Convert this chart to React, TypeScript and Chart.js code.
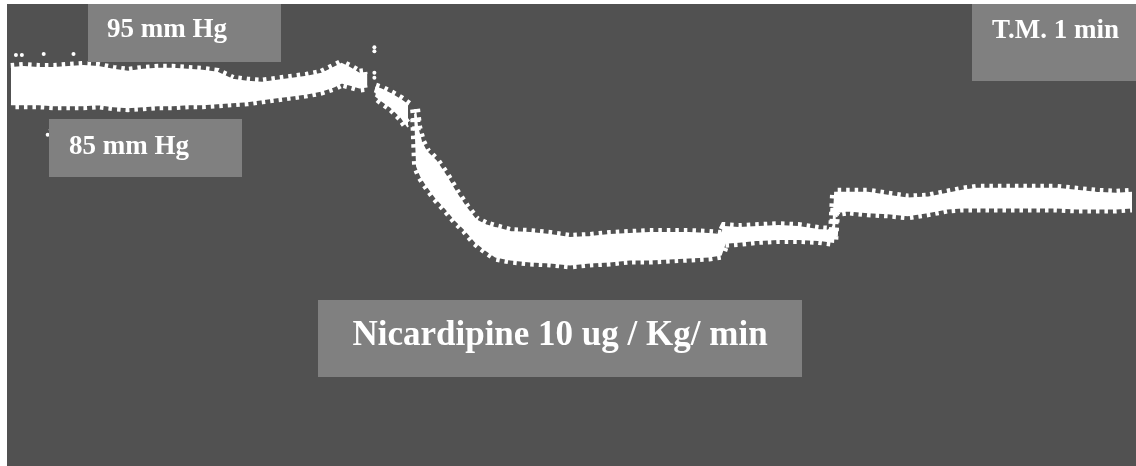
import React, { useEffect, useRef } from "react";
import { Chart, registerables } from "chart.js";

Chart.register(...registerables);

// Time (s) of each sample along the recording
const timeSec: number[] = [
  3.5, 10, 17.5, 25, 32.5, 40, 47.5, 55, 62.5, 70, 77.5, 85, 92.5, 100, 107.5,
  115, 122.5, 130, 137.5, 145, 152.5, 160, 166, 170, 174, 179, 183,
  185,
  187, 190, 195, 200, 203.5,
  205,
  207, 208, 210, 212.5, 217.5, 222.5, 227.5, 232.5, 237.5, 242.5, 247.5, 255,
  265, 275, 285, 295, 305, 315, 325, 335, 345, 355, 361,
  363, 370, 380, 390, 400, 410, 417.5,
  418.5, 425, 435, 445, 455, 465, 475, 482.5, 490, 500, 510, 520, 530, 540,
  550, 560, 568,
];

// Systolic envelope (mm Hg)
const systolic: (number | null)[] = [
  92.5, 92.6, 92.5, 92.5, 92.6, 92.7, 92.6, 92.3, 92.1, 92.3, 92.4, 92.4, 92.3,
  92.2, 92.0, 91.3, 91.1, 91.0, 91.2, 91.4, 91.6, 91.9, 92.5, 92.9, 92.5, 91.9,
  92.0,
  null,
  90.5, 90.3, 89.8, 89.2, 88.7,
  null,
  88.3, 86.5, 85.0, 84.0, 83.0, 81.5, 79.8, 78.3, 77.0, 76.5, 76.2, 75.8,
  75.7, 75.5, 75.2, 75.3, 75.5, 75.6, 75.7, 75.7, 75.7, 75.6, 75.5,
  76.3, 76.2, 76.3, 76.4, 76.3, 76.0, 75.9,
  79.8, 79.8, 79.8, 79.5, 79.2, 79.3, 79.7, 80.0, 80.2, 80.2, 80.2, 80.2,
  80.2, 80.0, 79.8, 79.7, 79.8,
];

// Diastolic envelope (mm Hg)
const diastolic: (number | null)[] = [
  88.8, 88.8, 88.8, 88.7, 88.7, 88.7, 88.8, 88.6, 88.5, 88.6, 88.7, 88.7, 88.8,
  88.8, 88.9, 89.0, 89.1, 89.3, 89.5, 89.7, 89.9, 90.2, 90.6, 91.0, 90.8, 90.5,
  90.6,
  null,
  89.7, 89.2, 88.5, 87.5, 86.5,
  null,
  87.8, 82.5, 81.5, 80.7, 79.3, 78.2, 77.0, 76.0, 74.8, 74.0, 73.3, 73.0,
  72.8, 72.7, 72.5, 72.7, 72.8, 73.0, 73.0, 73.1, 73.2, 73.3, 73.5,
  74.7, 74.8, 75.0, 75.1, 75.1, 75.0, 74.8,
  77.8, 78.0, 77.8, 77.7, 77.5, 77.8, 78.2, 78.3, 78.3, 78.3, 78.3, 78.3,
  78.3, 78.2, 78.2, 78.2, 78.3,
];

// Stray pen marks on the tracing
const artifactTime: number[] = [6, 9, 20, 35, 186.5, 186.5, 186.5, 186.5, 23.5, 22];
const artifactValue: number[] = [93.8, 93.8, 93.9, 93.9, 94.6, 94.2, 92.0, 91.5, 86.2, 85.7];

const labelHigh = "95 mm Hg";
const labelLow = "85 mm Hg";
const labelTime = "T.M. 1 min";
const labelDrug = "Nicardipine 10 ug / Kg/ min";

const BG = "#515151";
const BOX = "#808080";
const FONT = "'Liberation Serif', 'Times New Roman', serif";

const annotationsPlugin = {
  id: "recordingDecor",
  beforeDraw(chart: any) {
    const { ctx, width, height } = chart;
    ctx.save();
    ctx.fillStyle = "#ffffff";
    ctx.fillRect(0, 0, width, height);
    ctx.fillStyle = BG;
    ctx.fillRect(7, 4, width - 7, height - 4);
    ctx.restore();
  },
  afterDraw(chart: any) {
    const { ctx } = chart;
    ctx.save();
    const box = (x: number, y: number, w: number, h: number) => {
      ctx.fillStyle = BOX;
      ctx.fillRect(x, y, w, h);
    };
    box(88, 4, 193, 58);
    box(49, 119, 193, 58);
    box(972, 4, 164, 77);
    box(318, 300, 484, 77);
    ctx.fillStyle = "#ffffff";
    ctx.textBaseline = "alphabetic";
    ctx.font = `bold 27px ${FONT}`;
    ctx.textAlign = "left";
    ctx.fillText(labelHigh, 107, 37);
    ctx.fillText(labelLow, 69, 154);
    ctx.fillText(labelTime, 992, 38);
    ctx.font = `bold 35px ${FONT}`;
    ctx.textAlign = "center";
    ctx.fillText(labelDrug, 560, 345);
    ctx.restore();
  },
};

export default function App() {
  const ref = useRef<HTMLCanvasElement | null>(null);
  useEffect(() => {
    if (!ref.current) return;
    const pts = (arr: (number | null)[]) =>
      timeSec.map((t, i) => ({ x: t, y: arr[i] as any }));
    const teeth = {
      borderColor: "#ffffff",
      borderWidth: 10,
      borderDash: [3.5, 5],
      borderCapStyle: "butt",
      pointRadius: 0,
      fill: false,
      tension: 0,
      spanGaps: false,
    };
    const chart = new Chart(ref.current, {
      type: "line",
      data: {
        datasets: [
          {
            label: "Systolic",
            data: pts(systolic),
            borderColor: "#ffffff",
            borderWidth: 2,
            pointRadius: 0,
            fill: false,
            tension: 0,
            spanGaps: false,
          },
          {
            label: "Diastolic",
            data: pts(diastolic),
            borderColor: "#ffffff",
            backgroundColor: "#ffffff",
            borderWidth: 2,
            pointRadius: 0,
            fill: "-1",
            tension: 0,
            spanGaps: false,
          },
          { label: "Systolic beats", data: pts(systolic), ...teeth },
          { label: "Diastolic beats", data: pts(diastolic), ...teeth, borderDashOffset: 4 },
          {
            label: "Artifacts",
            type: "scatter",
            data: artifactTime.map((t, i) => ({ x: t, y: artifactValue[i] })),
            pointRadius: 2,
            pointBackgroundColor: "#ffffff",
            pointBorderWidth: 0,
          } as any,
        ],
      },
      options: {
        animation: false,
        responsive: false,
        layout: { padding: 0 },
        plugins: { legend: { display: false }, tooltip: { enabled: false } },
        scales: {
          x: { type: "linear", min: 0, max: 568, display: false },
          y: { type: "linear", min: 52.4, max: 99, display: false },
        },
      },
      plugins: [annotationsPlugin],
    });
    return () => chart.destroy();
  }, []);
  return (
    <div style={{ position: "absolute", left: 0, top: 0, width: 1136, height: 466 }}>
      <canvas ref={ref} width={1136} height={466} style={{ display: "block" }} />
    </div>
  );
}
